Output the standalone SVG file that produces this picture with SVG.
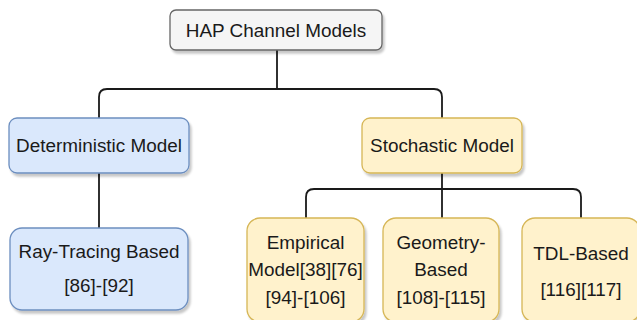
<svg xmlns="http://www.w3.org/2000/svg" width="637" height="320" viewBox="0 0 637 320">
<defs>
<filter id="sh" x="-10%" y="-10%" width="130%" height="140%">
<feDropShadow dx="2" dy="3" stdDeviation="1.2" flood-color="#000" flood-opacity="0.22"/>
</filter>
</defs>
<style>
.gray{fill:#f5f5f5;stroke:#666666;stroke-width:1.3}
.blue{fill:#dae8fc;stroke:#6c8ebf;stroke-width:1.3}
.yel{fill:#fff2cc;stroke:#d6b656;stroke-width:1.3}
text{font-family:"Liberation Sans",Arial,sans-serif;font-size:18.9px;fill:#1a1a1a;text-anchor:middle}
.c{fill:none;stroke:#1a1a1a;stroke-width:1.8}
</style>
<g id="connectors">
<path class="c" d="M277,50 V89"/>
<path class="c" d="M99,118 V97 Q99,89 107,89 H434 Q442,89 442,97 V118"/>
<path class="c" d="M99,173 V228"/>
<path class="c" d="M442,173 V218"/>
<path class="c" d="M306,218 V197 Q306,189 314,189 H573 Q581,189 581,197 V218"/>
</g>
<g id="root">
<rect class="gray" x="170" y="10" width="212" height="40" rx="6" filter="url(#sh)"/>
<text x="276" y="37">HAP Channel Models</text>
</g>
<g id="deterministic">
<rect class="blue" x="9" y="118" width="180" height="55" rx="8" filter="url(#sh)"/>
<text x="99" y="152">Deterministic Model</text>
</g>
<g id="stochastic">
<rect class="yel" x="362" y="118" width="160" height="55" rx="8" filter="url(#sh)"/>
<text x="442" y="152">Stochastic Model</text>
</g>
<g id="raytracing">
<rect class="blue" x="10" y="228" width="178" height="82" rx="12" filter="url(#sh)"/>
<text x="99" y="258">Ray-Tracing Based</text>
<text x="99" y="292">[86]-[92]</text>
</g>
<g id="empirical">
<rect class="yel" x="247" y="218" width="117" height="104" rx="13" filter="url(#sh)"/>
<text x="305.5" y="249">Empirical</text>
<text x="305.5" y="276">Model[38][76]</text>
<text x="305.5" y="304">[94]-[106]</text>
</g>
<g id="geometry">
<rect class="yel" x="383" y="218" width="116" height="104" rx="13" filter="url(#sh)"/>
<text x="441" y="249">Geometry-</text>
<text x="441" y="276">Based</text>
<text x="441" y="304">[108]-[115]</text>
</g>
<g id="tdl">
<rect class="yel" x="522" y="218" width="118" height="104" rx="13" filter="url(#sh)"/>
<text x="581" y="260">TDL-Based</text>
<text x="581" y="296">[116][117]</text>
</g>
</svg>
